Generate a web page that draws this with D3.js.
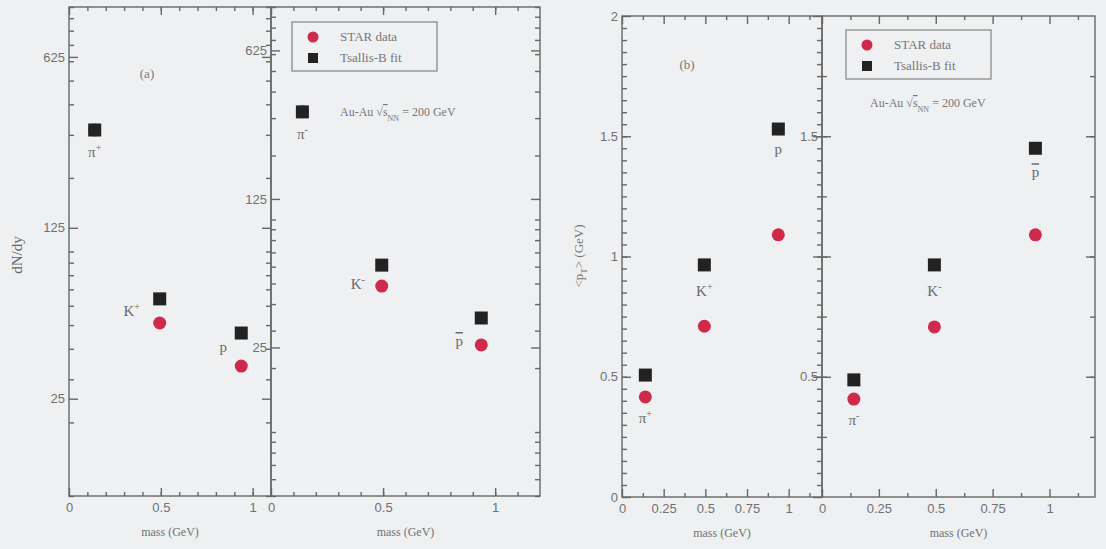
<!DOCTYPE html>
<html>
<head>
<meta charset="utf-8">
<script src="https://cdn.jsdelivr.net/npm/d3@7"></script>
<style>
body { margin: 0; background: #eff0f2; }
svg { display: block; font-family: "Liberation Serif", "DejaVu Serif", serif; }
</style>
</head>
<body>
<svg id="chart" width="1106" height="549"></svg>
<script>
// particle masses (GeV) and names
var mass = [0.14, 0.494, 0.938];
var particleName = ["π", "K", "p"];
var chargePos = ["+", "+", ""];
var chargeNeg = ["-", "-", ""];

// dN/dy, panel (a)
var dndyPosStar = [314, 51, 34];
var dndyPosFit  = [314, 64, 46.4];
var dndyNegStar = [321, 48.6, 25.7];
var dndyNegFit  = [321, 61, 34.4];

// <pT> (GeV), panel (b)
var ptPosStar = [0.416, 0.71, 1.09];
var ptPosFit  = [0.507, 0.965, 1.53];
var ptNegStar = [0.407, 0.707, 1.09];
var ptNegFit  = [0.487, 0.965, 1.45];

var legendNames = ["STAR data", "Tsallis-B fit"];

var svg = d3.select("#chart");
var ink = "#676767";
var red = "#cf2a4c";
var black = "#222";

function draw_sub(p) {
    var x = d3.scaleLinear().domain(p.xDomain).range([p.left, p.right]);
    var y = (p.log ? d3.scaleLog() : d3.scaleLinear())
        .domain(p.yDomain).range([p.bottom, p.top]);

    var g = svg.append("g");

    // bottom
    g.append("g")
        .attr("transform", "translate(0," + p.bottom + ")")
        .call(d3.axisBottom(x).tickValues(p.xMajor).tickSize(-8).tickPadding(7).tickFormat(d3.format("")));
    g.append("g")
        .attr("transform", "translate(0," + p.bottom + ")")
        .call(d3.axisBottom(x).tickValues(p.xMinor).tickSize(-4).tickFormat(""));
    // top
    g.append("g")
        .attr("transform", "translate(0," + p.top + ")")
        .call(d3.axisTop(x).tickValues(p.xMajor).tickSize(-8).tickFormat(""));
    g.append("g")
        .attr("transform", "translate(0," + p.top + ")")
        .call(d3.axisTop(x).tickValues(p.xMinor).tickSize(-4).tickFormat(""));
    // left
    g.append("g")
        .attr("transform", "translate(" + p.left + ",0)")
        .call(d3.axisLeft(y).tickValues(p.yMajor).tickSize(-9).tickPadding(4)
            .tickFormat(function(d) { return p.yLabels.indexOf(d) >= 0 ? d3.format("")(d) : ""; }));
    g.append("g")
        .attr("transform", "translate(" + p.left + ",0)")
        .call(d3.axisLeft(y).tickValues(p.yMinor).tickSize(-5).tickFormat(""));
    // right
    g.append("g")
        .attr("transform", "translate(" + p.right + ",0)")
        .call(d3.axisRight(y).tickValues(p.yMajor).tickSize(-9).tickFormat(""));
    g.append("g")
        .attr("transform", "translate(" + p.right + ",0)")
        .call(d3.axisRight(y).tickValues(p.yMinor).tickSize(-5).tickFormat(""));

    g.selectAll(".domain").remove();
    g.selectAll(".tick line").attr("stroke", ink).attr("stroke-width", 1.4);
    g.selectAll(".tick text").attr("fill", "#707070").attr("font-size", 13);

    svg.append("rect")
        .attr("x", p.left).attr("y", p.top)
        .attr("width", p.right - p.left).attr("height", p.bottom - p.top)
        .attr("fill", "none").attr("stroke", ink).attr("stroke-width", 1.4);

    // x title
    svg.append("text")
        .attr("x", (p.left + p.right) / 2).attr("y", p.bottom + 40)
        .attr("text-anchor", "middle").attr("font-size", 12).attr("fill", "#707070")
        .text("mass (GeV)");

    // markers
    svg.append("g").selectAll("circle")
        .data(p.star).enter().append("circle")
        .attr("cx", function(d, i) { return x(mass[i]); })
        .attr("cy", function(d) { return y(d); })
        .attr("r", 6.5)
        .attr("fill", red);

    svg.append("g").selectAll("rect")
        .data(p.fit).enter().append("rect")
        .attr("x", function(d, i) { return x(mass[i]) - 6.5; })
        .attr("y", function(d) { return y(d) - 6.5; })
        .attr("width", 13).attr("height", 13)
        .attr("fill", black);

    // particle labels
    p.fit.forEach(function(d, i) {
        var t = svg.append("text")
            .attr("x", x(mass[i]) + p.labelOff[i][0])
            .attr("y", y(d) + p.labelOff[i][1] + 5)
            .attr("text-anchor", "middle")
            .attr("font-size", 15)
            .attr("fill", "#6a6a6a");
        t.append("tspan")
            .attr("text-decoration", (p.anti && i === 2) ? "overline" : null)
            .text(particleName[i]);
        if (p.charge[i] !== "") {
            t.append("tspan").attr("dy", -6).attr("font-size", 10).text(p.charge[i]);
        }
    });
}

function draw_legend(lx, ly) {
    var g = svg.append("g");
    g.append("rect")
        .attr("x", lx).attr("y", ly).attr("width", 145).attr("height", 49)
        .attr("fill", "none").attr("stroke", "#8a8a8a").attr("stroke-width", 1.3);
    g.append("circle").attr("cx", lx + 21).attr("cy", ly + 15).attr("r", 5.5).attr("fill", red);
    g.append("rect").attr("x", lx + 16).attr("y", ly + 31).attr("width", 10).attr("height", 10).attr("fill", black);
    g.selectAll("text").data(legendNames).enter().append("text")
        .attr("x", lx + 48).attr("y", function(d, i) { return ly + 19 + i * 21; })
        .attr("font-size", 13).attr("fill", "#777")
        .text(function(d) { return d; });
}

function draw_energy(ex, ey) {
    var t = svg.append("text").attr("x", ex).attr("y", ey)
        .attr("font-size", 12).attr("fill", "#777");
    t.append("tspan").text("Au-Au √");
    t.append("tspan").attr("text-decoration", "overline").text("s");
    t.append("tspan").attr("dy", 5).attr("font-size", 8).text("NN");
    t.append("tspan").attr("dy", -5).text(" = 200 GeV");
}

// ---- panel (a): dN/dy
var logMinor = d3.range(10, 100, 10).concat(d3.range(100, 1001, 100));
draw_sub({
    left: 69, right: 271, top: 7, bottom: 496,
    xDomain: [0, 1.1], xMajor: [0, 0.5, 1], xMinor: d3.range(0.1, 1.1, 0.1),
    log: true, yDomain: [10, 1000], yMajor: [25, 125, 625], yLabels: [25, 125, 625],
    yMinor: logMinor,
    star: dndyPosStar, fit: dndyPosFit, charge: chargePos, anti: false,
    labelOff: [[0, 22], [-28, 12], [-18, 14]]
});
draw_sub({
    left: 271, right: 540, top: 7, bottom: 496,
    xDomain: [0, 1.2], xMajor: [0, 0.5, 1], xMinor: d3.range(0.1, 1.2, 0.1),
    log: true, yDomain: [5, 1000], yMajor: [25, 125, 625], yLabels: [25, 125, 625],
    yMinor: [5, 6, 7, 8, 9].concat(logMinor),
    star: dndyNegStar, fit: dndyNegFit, charge: chargeNeg, anti: true,
    labelOff: [[0, 22], [-24, 19], [-22, 23]]
});

// ---- panel (b): <pT>
draw_sub({
    left: 622, right: 822, top: 16, bottom: 497,
    xDomain: [0, 1.2], xMajor: [0, 0.25, 0.5, 0.75, 1], xMinor: d3.range(0.125, 1.2, 0.25),
    log: false, yDomain: [0, 2], yMajor: [0, 0.5, 1, 1.5, 2], yLabels: [0, 0.5, 1, 1.5, 2],
    yMinor: d3.range(0.05, 2, 0.05),
    star: ptPosStar, fit: ptPosFit, charge: chargePos, anti: false,
    labelOff: [[0, 43], [0, 26], [0, 20]]
});
draw_sub({
    left: 822, right: 1095, top: 16, bottom: 497,
    xDomain: [0, 1.2], xMajor: [0, 0.25, 0.5, 0.75, 1], xMinor: d3.range(0.125, 1.2, 0.25),
    log: false, yDomain: [0, 2], yMajor: [0.5, 1, 1.5], yLabels: [0.5, 1.5],
    yMinor: d3.range(0.25, 2, 0.25),
    star: ptNegStar, fit: ptNegFit, charge: chargeNeg, anti: true,
    labelOff: [[0, 40], [0, 26], [0, 24]]
});

// panel tags, legends, labels
svg.append("text").attr("x", 147).attr("y", 78).attr("text-anchor", "middle")
    .attr("font-size", 13).attr("fill", "#777").text("(a)");
svg.append("text").attr("x", 687).attr("y", 69).attr("text-anchor", "middle")
    .attr("font-size", 13).attr("fill", "#777").text("(b)");

draw_legend(292, 22);
draw_legend(846, 30);
draw_energy(340, 116);
draw_energy(870, 107);

svg.append("text")
    .attr("transform", "translate(22,255) rotate(-90)")
    .attr("text-anchor", "middle").attr("font-size", 15).attr("fill", "#666")
    .text("dN/dy");

var pt = svg.append("text")
    .attr("transform", "translate(583,256) rotate(-90)")
    .attr("text-anchor", "middle").attr("font-size", 13).attr("fill", "#777");
pt.append("tspan").text("<p");
pt.append("tspan").attr("dy", 4).attr("font-size", 9).text("T");
pt.append("tspan").attr("dy", -4).text("> (GeV)");
</script>
</body>
</html>
